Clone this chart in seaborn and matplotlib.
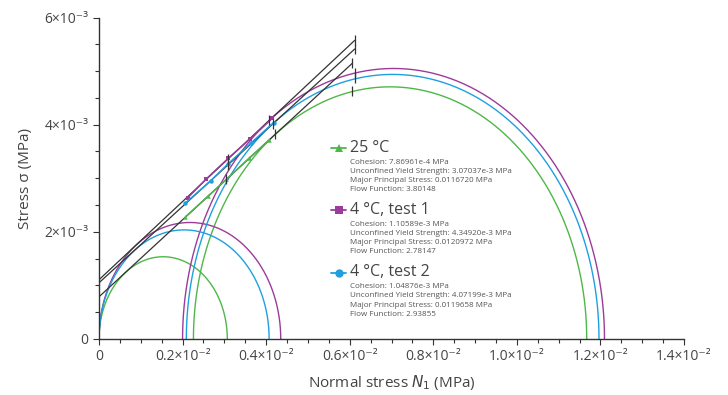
import numpy as np
import pandas as pd
import matplotlib
matplotlib.use("Agg")
import matplotlib.pyplot as plt
from matplotlib.lines import Line2D
from matplotlib.ticker import MultipleLocator, FixedLocator
import seaborn as sns

# three test conditions
conditions = ["25 °C", "4 °C, test 1", "4 °C, test 2"]
colors = ["#4db848", "#9b3c9b", "#1ea0e0"]
markers = ["^", "s", "o"]

cohesion = [7.86961e-4, 1.10589e-3, 1.04876e-3]
uys = [3.07037e-3, 4.34920e-3, 4.07199e-3]
sigma1 = [0.0116720, 0.0120972, 0.0119658]
sigma2 = [2.26e-3, 2.00e-3, 2.09e-3]
flow_function = [3.80148, 2.78147, 2.93855]
slope = [0.719, 0.730, 0.713]
locus_end = [6.06e-3, 6.12e-3, 6.12e-3]
preshear_tau = [4.62e-3, 4.96e-3, 4.87e-3]

# shear points
shear_x_25 = [2.07e-3, 2.60e-3, 3.05e-3, 3.60e-3, 4.08e-3]
shear_y_25 = [2.28e-3, 2.66e-3, 2.98e-3, 3.38e-3, 3.72e-3]
shear_x_t1 = [2.13e-3, 2.57e-3, 3.09e-3, 3.61e-3, 4.15e-3]
shear_y_t1 = [2.64e-3, 2.99e-3, 3.37e-3, 3.73e-3, 4.12e-3]
shear_x_t2 = [2.07e-3, 2.67e-3, 3.09e-3, 3.64e-3, 4.18e-3]
shear_y_t2 = [2.54e-3, 2.95e-3, 3.27e-3, 3.66e-3, 4.04e-3]

xtick_vals = [0, 0.002, 0.004, 0.006, 0.008, 0.010, 0.012, 0.014]
xtick_labels = ["0", "0.2×10⁻²", "0.4×10⁻²", "0.6×10⁻²", "0.8×10⁻²",
                "1.0×10⁻²", "1.2×10⁻²", "1.4×10⁻²"]
ytick_vals = [0, 0.002, 0.004, 0.006]
ytick_labels = ["0", "2×10⁻³", "4×10⁻³", "6×10⁻³"]

sns.set_style("ticks")
plt.rcParams["font.family"] = ["Open Sans", "DejaVu Sans"]

W, H = 728, 395
fig = plt.figure(figsize=(W / 100, H / 100), dpi=100)
ax = fig.add_axes([99 / W, 1 - 339 / H, (684 - 99) / W, (339 - 17.5) / H])

# yield loci (black)
for i in range(3):
    xs = np.array([0, locus_end[i]])
    ax.plot(xs, cohesion[i] + slope[i] * xs, color="#333333", lw=0.9, zorder=3)

# Mohr circles
t = np.linspace(0, np.pi, 400)
for i in range(3):
    r0 = uys[i] / 2
    ax.plot(r0 + r0 * np.cos(t), r0 * np.sin(t), color=colors[i], lw=1, zorder=2)
    a = (sigma1[i] + sigma2[i]) / 2
    r = (sigma1[i] - sigma2[i]) / 2
    ax.plot(a + r * np.cos(t), r * np.sin(t), color=colors[i], lw=1, zorder=2)

# shear points
df = pd.DataFrame({
    "x": shear_x_25 + shear_x_t1 + shear_x_t2,
    "y": shear_y_25 + shear_y_t1 + shear_y_t2,
    "cond": [conditions[0]] * 5 + [conditions[1]] * 5 + [conditions[2]] * 5,
})
sns.lineplot(data=df, x="x", y="y", hue="cond", style="cond",
             palette=dict(zip(conditions, colors)),
             markers=dict(zip(conditions, markers)), dashes=False,
             markersize=3.2, markeredgewidth=0, lw=1.1, sort=False,
             legend=False, ax=ax, zorder=4)

# tick-like marks: end of locus, preshear point, tangent point, mid point
mids = [shear_x_25[2], shear_x_t1[2], shear_x_t2[2]]
for i in range(3):
    phi = np.arctan(slope[i])
    a = (sigma1[i] + sigma2[i]) / 2
    r = (sigma1[i] - sigma2[i]) / 2
    xt = a - r * np.sin(phi)
    xs = [locus_end[i], locus_end[i], xt, mids[i]]
    ys = [cohesion[i] + slope[i] * locus_end[i], preshear_tau[i],
          cohesion[i] + slope[i] * xt, cohesion[i] + slope[i] * mids[i]]
    ax.plot(xs, ys, ls="none", marker="|", ms=7, mew=0.9, color="#333333", zorder=5)

ax.set_xlim(0, 0.014)
ax.set_ylim(0, 0.006)
ax.xaxis.set_major_locator(FixedLocator(xtick_vals))
ax.set_xticklabels(xtick_labels)
ax.yaxis.set_major_locator(FixedLocator(ytick_vals))
ax.set_yticklabels(ytick_labels)
ax.xaxis.set_minor_locator(MultipleLocator(0.0005))
ax.yaxis.set_minor_locator(MultipleLocator(0.0005))
ax.tick_params(which="major", length=4, width=0.8, color="#333333",
               labelsize=10, labelcolor="#444444")
ax.tick_params(which="minor", length=3, width=0.8, color="#333333")
for s in ["left", "bottom"]:
    ax.spines[s].set_color("#333333")
    ax.spines[s].set_linewidth(1)
sns.despine(ax=ax)

ax.set_xlabel("Normal stress $N_1$ (MPa)", fontsize=11, color="#444444", labelpad=6)
ax.set_ylabel("Stress σ (MPa)", fontsize=11, color="#444444", labelpad=8)

# legend block
title_y = [148, 210, 272.5]
details = [
    ["Cohesion: 7.86961e-4 MPa", "Unconfined Yield Strength: 3.07037e-3 MPa",
     "Major Principal Stress: 0.0116720 MPa", "Flow Function: 3.80148"],
    ["Cohesion: 1.10589e-3 MPa", "Unconfined Yield Strength: 4.34920e-3 MPa",
     "Major Principal Stress: 0.0120972 MPa", "Flow Function: 2.78147"],
    ["Cohesion: 1.04876e-3 MPa", "Unconfined Yield Strength: 4.07199e-3 MPa",
     "Major Principal Stress: 0.0119658 MPa", "Flow Function: 2.93855"],
]
for i in range(3):
    yy = 1 - title_y[i] / H
    fig.add_artist(Line2D([331 / W, 346 / W], [yy, yy], color=colors[i], lw=1.3,
                          transform=fig.transFigure))
    fig.add_artist(Line2D([338.5 / W], [yy], color=colors[i], marker=markers[i],
                          ms=6, mew=0, transform=fig.transFigure))
    fig.text(350 / W, yy, conditions[i], fontsize=11.5, color="#444444", va="center")
    for k, line in enumerate(details[i]):
        fig.text(350 / W, 1 - (title_y[i] + 14 + 9.3 * k) / H, line,
                 fontsize=5.8, color="#555555", va="center")

fig.savefig("out.png", dpi=100)
